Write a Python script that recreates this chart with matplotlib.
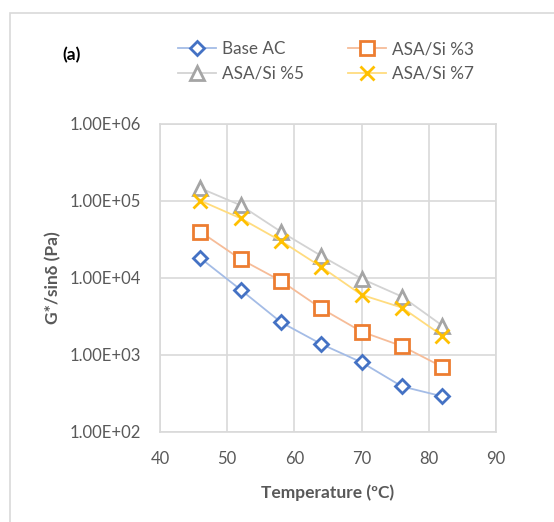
import matplotlib.pyplot as plt
from matplotlib.patches import Rectangle
from matplotlib.ticker import FixedLocator, FuncFormatter

plt.rcParams['font.family'] = ['Lato', 'DejaVu Sans']

temp = [46, 52, 58, 64, 70, 76, 82]
base_ac = [1.8e4, 7.0e3, 2.65e3, 1.38e3, 8.0e2, 3.9e2, 2.9e2]
asa_3 = [3.95e4, 1.74e4, 9.1e3, 4.0e3, 2.0e3, 1.3e3, 7.0e2]
asa_5 = [1.45e5, 8.7e4, 3.95e4, 1.92e4, 9.7e3, 5.7e3, 2.4e3]
asa_7 = [1.0e5, 5.9e4, 3.0e4, 1.38e4, 6.0e3, 4.1e3, 1.78e3]

yticks = [1e2, 1e3, 1e4, 1e5, 1e6]
xticks = [40, 50, 60, 70, 80, 90]

txt = '#595959'
grid = '#D9D9D9'

fig = plt.figure(figsize=(5.54, 5.22), dpi=100)
ax = fig.add_axes([160 / 554, 1 - 432 / 522, 336 / 554, 308.5 / 522])

# chart frame (Excel chart area border)
fig.patches.append(Rectangle((10 / 554, -0.1), 1.2, 1 - 13 / 522 + 0.1,
                             transform=fig.transFigure, fill=False,
                             edgecolor=grid, lw=1.2))

l1, = ax.plot(temp, base_ac, color='#A4BCE6', lw=1.3, marker='D', ms=7.5,
              mec='#4472C4', mfc='white', mew=2, label='Base AC')
l2, = ax.plot(temp, asa_3, color='#F6BC98', lw=1.3, marker='s', ms=9.5,
              mec='#ED7D31', mfc='white', mew=2, label='ASA/Si %3')
l3, = ax.plot(temp, asa_5, color='#D3D3D3', lw=1.3, marker='^', ms=10,
              mec='#A5A5A5', mfc='white', mew=2, label='ASA/Si %5')
l4, = ax.plot(temp, asa_7, color='#FFDC7F', lw=1.3, marker='x', ms=9.5,
              mec='#FFC000', mew=2, label='ASA/Si %7')

ax.set_yscale('log')
ax.set_ylim(1e2, 1e6)
ax.set_xlim(40, 90)
ax.yaxis.set_major_locator(FixedLocator(yticks))
ax.yaxis.set_minor_locator(FixedLocator([]))
ax.yaxis.set_major_formatter(FuncFormatter(lambda v, p: '%.2E' % v))
ax.set_xticks(xticks)
ax.grid(True, color=grid, lw=1.2)
ax.set_axisbelow(True)
for s in ax.spines.values():
    s.set_color(grid)
    s.set_linewidth(1.2)
ax.tick_params(length=0, labelsize=12, colors=txt)
ax.tick_params(axis='y', pad=14)
ax.tick_params(axis='x', pad=14)

ax.set_xlabel('Temperature (ºC)', fontsize=12.5, fontweight='bold', color=txt, labelpad=12)
ax.set_ylabel('G*/sinδ (Pa)', fontsize=12.5, fontweight='bold', color=txt, labelpad=6)

fig.text(62 / 554, 1 - 55 / 522, '(a)', fontsize=12.5, fontweight='bold',
         color='black', va='center')

leg = fig.legend([l1, l3, l2, l4], ['Base AC', 'ASA/Si %5', 'ASA/Si %3', 'ASA/Si %7'],
                 ncol=2, loc='upper left', bbox_to_anchor=(163 / 554, 1 - 26 / 522),
                 frameon=False, fontsize=12.3, handlelength=2.2, handletextpad=0.35,
                 columnspacing=2.6, labelspacing=0.5, labelcolor=txt)

fig.savefig('out.png', dpi=100)
